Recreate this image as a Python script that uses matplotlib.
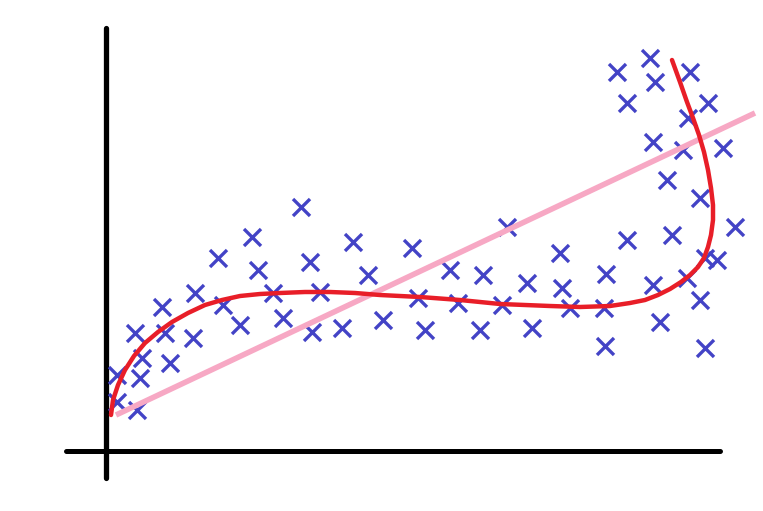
import matplotlib
matplotlib.use("Agg")
import matplotlib.pyplot as plt

pts_x = [301, 252, 353, 218, 310, 258, 368, 195, 273, 320, 162, 223, 283, 240, 165, 193,
         135, 312, 342, 142, 170, 117, 140, 117, 137,
         412, 507, 560, 450, 483, 527, 418, 562, 458, 502, 570, 383, 425, 480, 532, 606, 604, 605,
         650, 617, 655, 690, 627, 708, 688, 653, 683, 723, 667, 700, 735, 627, 672, 717, 705,
         653, 687, 700, 660, 705]
pts_y = [207, 237, 242, 258, 262, 270, 275, 293, 293, 292, 307, 305, 318, 325, 333, 338,
         333, 332, 328, 358, 363, 375, 378, 402, 410,
         248, 227, 253, 270, 275, 283, 298, 288, 303, 305, 308, 320, 330, 330, 328, 274, 308, 346,
         58, 72, 82, 72, 103, 103, 118, 142, 150, 148, 180, 198, 227, 240, 235, 260, 258,
         285, 278, 300, 322, 348]

# hand-drawn curve
curve_x = [111, 113, 118, 125, 134, 145, 158, 172, 188, 205, 222, 240, 260, 280, 305, 330,
           355, 380, 420, 460, 500, 550, 580, 610, 630, 645, 658, 670, 681, 690, 698, 704,
           708, 711, 713, 713, 711, 708, 704, 699, 693, 687, 680, 672]
curve_y = [415, 400, 385, 370, 356, 343, 332, 322, 313, 305, 300, 296, 294, 293, 292, 292,
           293, 295, 297, 300, 304, 306, 307, 306, 303, 300, 295, 289, 282, 275, 267, 258,
           247, 235, 220, 205, 188, 170, 152, 135, 118, 102, 82, 60]

# straight fit line
line_x = [116, 755]
line_y = [415, 113]

fig = plt.figure(figsize=(7.63, 5.11), dpi=100)
ax = fig.add_axes([0, 0, 1, 1])
ax.set_xlim(0, 763)
ax.set_ylim(511, 0)
ax.axis("off")

# axes drawn as thick black strokes
ax.plot([106, 106], [28, 478], color="black", lw=3.8, solid_capstyle="round", zorder=1)
ax.plot([66, 720], [451, 451], color="black", lw=3.6, solid_capstyle="round", zorder=1)

ax.scatter(pts_x, pts_y, marker="x", s=150, linewidths=2.4, color="#4343c6", zorder=2)
ax.plot(line_x, line_y, color="#f7a8c4", lw=4.0, solid_capstyle="butt", zorder=3)
ax.plot(curve_x, curve_y, color="#e81e28", lw=3.2, solid_capstyle="round",
        solid_joinstyle="round", zorder=4)

fig.savefig("out.png", dpi=100)
